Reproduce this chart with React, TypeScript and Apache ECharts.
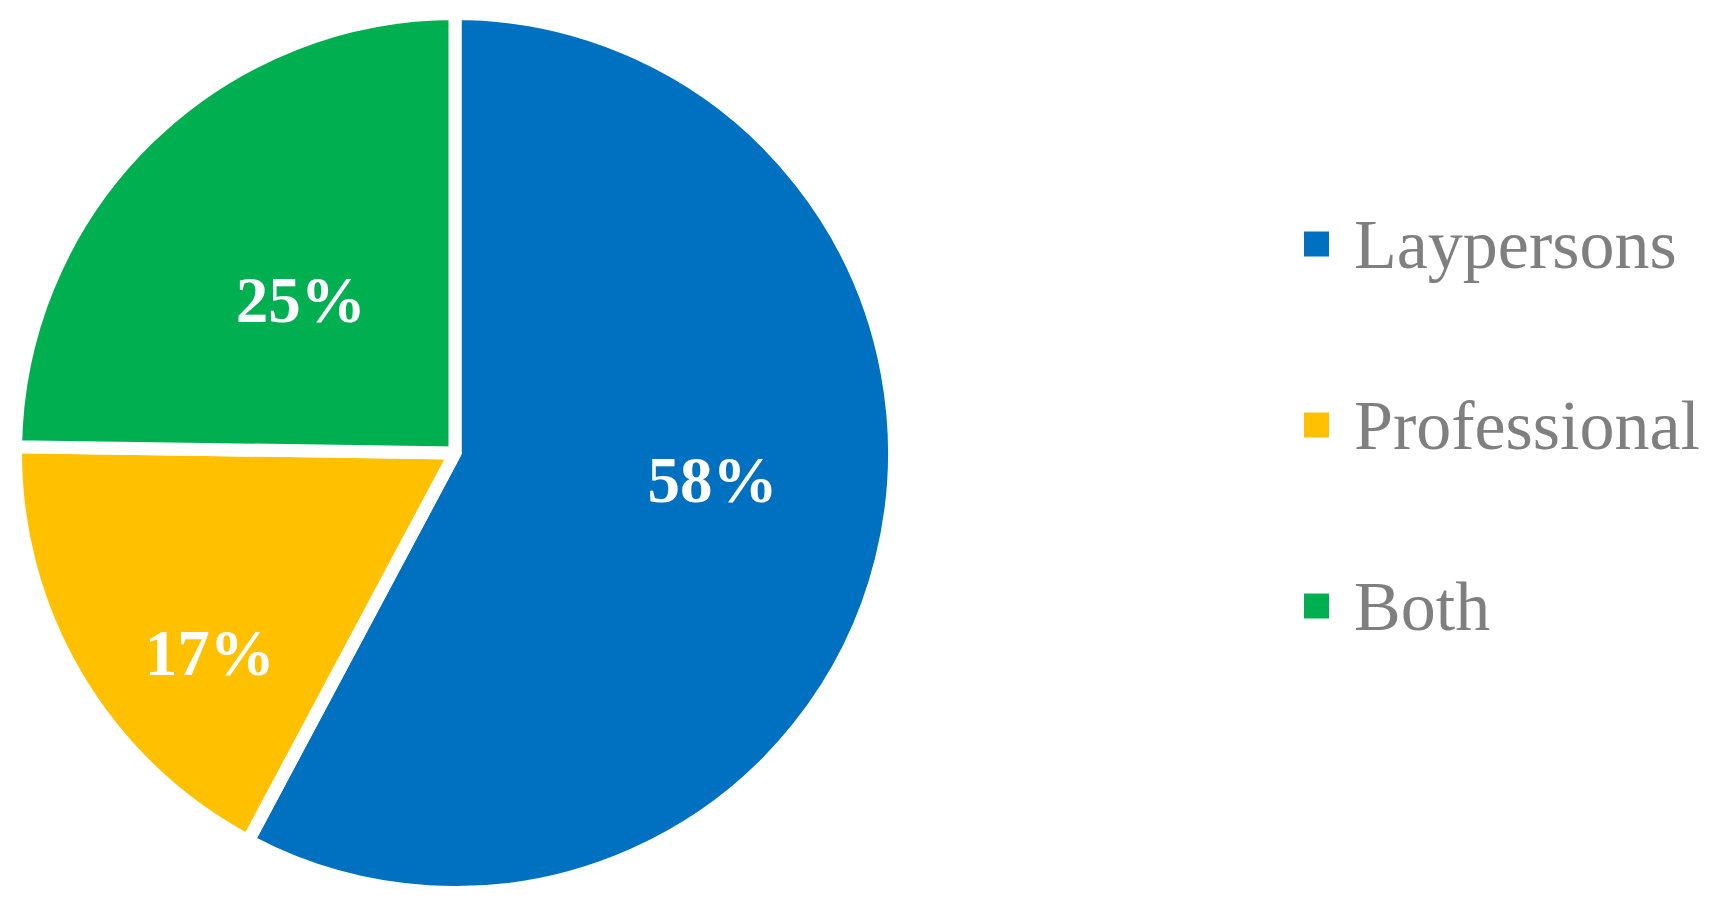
import React, { useEffect, useRef } from "react";
import * as echarts from "echarts";

const categories = ["Laypersons", "Professional", "Both"];
const counts = [63, 19, 27];
const colors = ["#0070C0", "#FFC000", "#00B050"];
const labelShift = [
  [41.5, -27.4],
  [-53.5, 86.7],
  [2, 5.5],
];

const FONT = "'Liberation Serif', 'Times New Roman', Times, serif";

export default function App() {
  const ref = useRef<HTMLDivElement>(null);
  useEffect(() => {
    const chart = echarts.init(ref.current!, undefined, { renderer: "svg" });
    chart.setOption({
      animation: false,
      backgroundColor: "#ffffff",
      legend: {
        orient: "vertical",
        left: 1302,
        top: 209,
        padding: 0,
        itemWidth: 27,
        itemHeight: 27,
        itemGap: 111,
        icon: "rect",
        selectedMode: false,
        data: categories,
        textStyle: {
          fontFamily: FONT,
          fontSize: 70,
          lineHeight: 70,
          color: "#7F7F7F",
          padding: [0, 0, 0, 19],
        },
      },
      series: [
        {
          type: "pie",
          center: [455, 453],
          radius: 439.5,
          startAngle: 90,
          clockwise: true,
          percentPrecision: 0,
          data: categories.map((name, i) => ({
            name,
            value: counts[i],
            itemStyle: { color: colors[i] },
          })),
          itemStyle: { borderColor: "#ffffff", borderWidth: 13 },
          label: {
            show: true,
            position: "inside",
            formatter: "{d}%",
            color: "#ffffff",
            fontFamily: FONT,
            fontWeight: "bold",
            fontSize: 65,
          },
          labelLine: { show: false },
          labelLayout: (p: any) => ({
            dx: labelShift[p.dataIndex][0],
            dy: labelShift[p.dataIndex][1],
          }),
          emphasis: { disabled: true },
        },
      ],
    });
    return () => chart.dispose();
  }, []);
  return (
    <div
      ref={ref}
      style={{ position: "fixed", left: 0, top: 0, width: 1735, height: 903 }}
    />
  );
}
